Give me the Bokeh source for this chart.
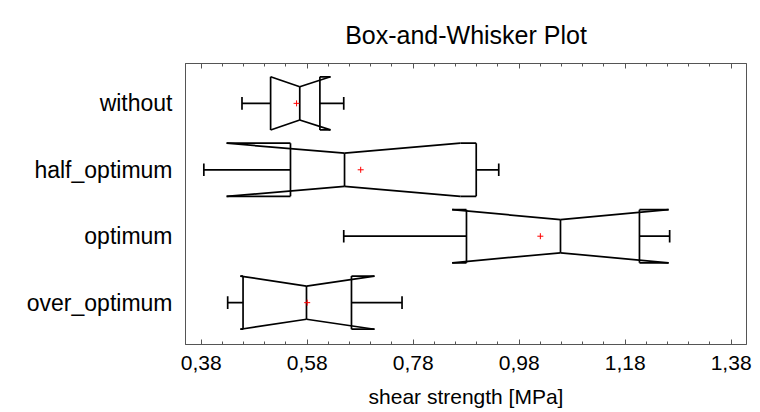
from bokeh.plotting import figure
from bokeh.models import Range1d, FixedTicker, LinearAxis, ColumnDataSource
from bokeh.embed import file_html
from bokeh.resources import INLINE

# ---- data ----
title_text = "Box-and-Whisker Plot"
categories = ["without", "half_optimum", "optimum", "over_optimum"]
cat_pos = [4, 3, 2, 1]
whisker_lo = [0.457, 0.385, 0.649, 0.430]
q1 = [0.511, 0.5485, 0.8806, 0.459]
median = [0.566, 0.6505, 1.058, 0.5787]
q3 = [0.604, 0.899, 1.207, 0.6636]
whisker_hi = [0.649, 0.9415, 1.264, 0.759]
notch_lo = [0.511, 0.428, 0.8536, 0.454]
notch_hi = [0.624, 0.869, 1.262, 0.707]
means = [0.560, 0.681, 1.020, 0.580]
x_ticks = [0.38, 0.58, 0.78, 0.98, 1.18, 1.38]
x_tick_labels = ["0,38", "0,58", "0,78", "0,98", "1,18", "1,38"]

# ---- style ----
H = 0.40   # box half height
N = 0.25   # notch half height
C = 0.095  # cap half height
FONT = "Liberation Sans"
GRAY = "#555555"

p = figure(width=760, height=412, output_backend="svg", toolbar_location=None,
           x_range=Range1d(0.3504, 1.409), y_range=Range1d(0.37, 4.6),
           min_border_left=185, min_border_right=14, min_border_top=63,
           min_border_bottom=68, title=title_text)
p.title.align = "center"
p.title.text_font = FONT
p.title.text_font_size = "25px"
p.title.text_font_style = "normal"
p.title.text_color = "black"
p.title.standoff = 26
p.title.vertical_align = "top"
p.xgrid.visible = False
p.ygrid.visible = False
p.outline_line_color = GRAY
p.outline_line_width = 1
p.background_fill_color = "white"
p.border_fill_color = "white"

x0, y0, x1, y1 = [], [], [], []
def seg(a, b, c, d):
    x0.append(a); y0.append(b); x1.append(c); y1.append(d)

for i in range(len(categories)):
    y = cat_pos[i]
    wl, a, m, b, wh = whisker_lo[i], q1[i], median[i], q3[i], whisker_hi[i]
    nl, nh = notch_lo[i], notch_hi[i]
    # whiskers
    seg(wl, y, a, y); seg(b, y, wh, y)
    seg(wl, y - C, wl, y + C); seg(wh, y - C, wh, y + C)
    # quartile verticals
    seg(a, y - H, a, y + H); seg(b, y - H, b, y + H)
    # median
    seg(m, y - N, m, y + N)
    # notch lines and box edges
    for s in (1, -1):
        seg(nl, y + s * H, m, y + s * N)
        seg(m, y + s * N, nh, y + s * H)
        seg(min(a, nl), y + s * H, max(a, nl), y + s * H)
        seg(min(b, nh), y + s * H, max(b, nh), y + s * H)

src = ColumnDataSource(dict(x0=x0, y0=y0, x1=x1, y1=y1))
p.segment("x0", "y0", "x1", "y1", source=src, line_color="black", line_width=1.7)
p.scatter(means, cat_pos, marker="cross", size=6, line_color="red", line_width=1)

minor = [round(0.34 + 0.04 * k, 2) for k in range(28)]
ticker = FixedTicker(ticks=x_ticks, minor_ticks=minor)

xa = p.xaxis[0]
xa.ticker = ticker
xa.major_label_overrides = {t: l for t, l in zip(x_ticks, x_tick_labels)}
xa.major_tick_in = 5
xa.major_tick_out = 0
xa.minor_tick_in = 3
xa.minor_tick_out = 0
xa.axis_line_color = GRAY
xa.major_tick_line_color = GRAY
xa.minor_tick_line_color = GRAY
xa.major_label_text_font = FONT
xa.major_label_text_font_size = "21px"
xa.major_label_text_color = "black"
xa.major_label_standoff = 11
xa.axis_label = "shear strength [MPa]"
xa.axis_label_text_font = FONT
xa.axis_label_text_font_size = "21px"
xa.axis_label_text_font_style = "normal"
xa.axis_label_text_color = "black"
xa.axis_label_standoff = 12

top = LinearAxis(ticker=ticker, major_label_text_color=None,
                 major_label_text_font_size="1px",
                 major_label_standoff=0, major_tick_in=5, major_tick_out=0,
                 minor_tick_in=3, minor_tick_out=0, axis_line_color=GRAY,
                 major_tick_line_color=GRAY, minor_tick_line_color=GRAY)
p.add_layout(top, "above")

ya = p.yaxis[0]
ya.ticker = FixedTicker(ticks=cat_pos, minor_ticks=[])
ya.major_label_overrides = {c: n for c, n in zip(cat_pos, categories)}
ya.major_tick_in = 0
ya.major_tick_out = 0
ya.minor_tick_in = 0
ya.minor_tick_out = 0
ya.axis_line_color = GRAY
ya.major_label_text_font = FONT
ya.major_label_text_font_size = "23px"
ya.major_label_text_color = "black"
ya.major_label_standoff = 13

open("out.html", "w").write(file_html(p, INLINE))
